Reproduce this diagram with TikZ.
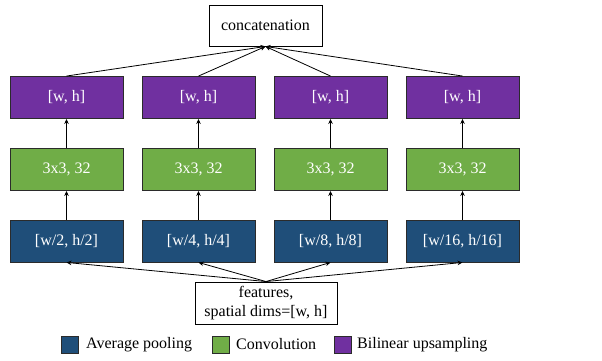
\documentclass[tikz,border=0pt]{standalone}
\usepackage{fontspec}
\setmainfont{Liberation Serif}
\usetikzlibrary{arrows.meta}
\definecolor{poolblue}{HTML}{1F4E79}
\definecolor{convgreen}{HTML}{70AD47}
\definecolor{upviolet}{HTML}{7030A0}
\definecolor{edgegray}{HTML}{2B2B2B}
\begin{document}
\begin{tikzpicture}[x=1bp,y=-1bp,
  every node/.style={font=\fontsize{16bp}{19bp}\selectfont, inner sep=0pt},
  opbox/.style={draw=edgegray, line width=0.9bp, minimum width=113bp, minimum height=42bp, text=white},
  poolbox/.style={opbox, fill=poolblue},
  convbox/.style={opbox, fill=convgreen},
  upbox/.style={opbox, fill=upviolet},
  plainbox/.style={draw=black, line width=0.9bp, fill=white, minimum height=41bp, align=center},
  legsq/.style={draw=edgegray, line width=0.9bp, minimum width=17bp, minimum height=17bp},
  flow/.style={-{Stealth[length=5bp,width=4.5bp]}, line width=0.8bp, black}
]
\useasboundingbox (0,0) rectangle (602,360);

\node[plainbox, minimum width=113bp] (cat) at (265.5,25.5) {concatenation};
\node[plainbox, minimum width=142bp, minimum height=42bp] (feat) at (266,303) {features,\\spatial dims=[w, h]};

\foreach \i/\lab in {1/{[w/2, h/2]},2/{[w/4, h/4]},3/{[w/8, h/8]},4/{[w/16, h/16]}}{
  \pgfmathsetmacro{\cx}{66.5+132*(\i-1)}
  \node[upbox] (up\i) at (\cx,97.5) {[w, h]};
  \node[convbox] (conv\i) at (\cx,169.5) {3x3, 32};
  \node[poolbox] (pool\i) at (\cx,241) {\lab};
  \draw[flow] (feat.north) -- (pool\i.south);
  \draw[flow] (pool\i) -- (conv\i);
  \draw[flow] (conv\i) -- (up\i);
  \draw[flow] (up\i.north) -- (cat.south);
}

\node[legsq, fill=poolblue] (lg1) at (70,344.5) {};
\node[anchor=west] (lt1) at (86,344.5) {Average pooling};
\node[legsq, fill=convgreen] (lg2) at (220.5,344.5) {};
\node[anchor=west] (lt2) at (236,344.5) {Convolution};
\node[legsq, fill=upviolet] (lg3) at (343,344.5) {};
\node[anchor=west] (lt3) at (357,344.5) {Bilinear upsampling};
\end{tikzpicture}
\end{document}
